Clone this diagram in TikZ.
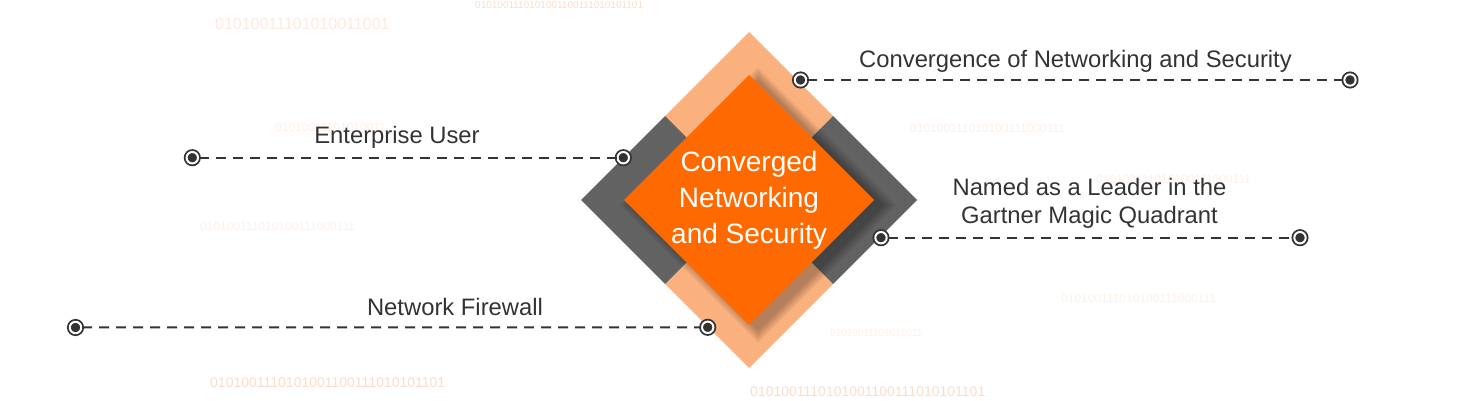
\documentclass[tikz,border=0pt]{standalone}
\usepackage{fontspec}
\setmainfont{Liberation Sans}
\usetikzlibrary{positioning}
\definecolor{peach}{HTML}{FBB17E}
\definecolor{flame}{HTML}{FF6A00}
\definecolor{slate}{HTML}{626262}
\definecolor{ink}{HTML}{333333}
\definecolor{bitsa}{RGB}{251,220,200}
\definecolor{bitsb}{RGB}{253,233,221}
\definecolor{bitsc}{RGB}{254,239,231}

\begin{document}
\begin{tikzpicture}[x=1pt,y=-1pt,
  lbl/.style={text=ink,font=\fontsize{23.8}{27.6}\selectfont,inner sep=0pt,align=center},
  bits/.style={anchor=base west,inner sep=0pt},
  bullseye/.style={circle,fill=ink,draw=ink,double=white,double distance=2pt,line width=1.8pt,inner sep=0pt,minimum size=11.4pt},
  lead/.style={draw=ink,line width=2pt,dash pattern=on 10pt off 7pt}]
\useasboundingbox (0,0) rectangle (1469,401);
% faint binary strings in the back
\node[bits,text=bitsb,font=\fontsize{16}{18}\selectfont] (bin1) at (215,29.3) {01010011101010011001};
\node[bits,text=bitsa,font=\fontsize{10}{12}\selectfont] (bin2) at (475,9) {0101001110101001100111010101101};
\node[bits,text=bitsc,font=\fontsize{12}{14}\selectfont] (bin3) at (275,131.7) {01010011101010011};
\node[bits,text=bitsc,font=\fontsize{12}{14}\selectfont] (bin4) at (200,230) {010100111010100111000111};
\node[bits,text=bitsc,font=\fontsize{12}{14}\selectfont] (bin5) at (910,132) {010100111010100111000111};
\node[bits,text=bitsc,font=\fontsize{12}{14}\selectfont] (bin6) at (1096,183) {010100111010100111000111};
\node[bits,text=bitsc,font=\fontsize{12}{14}\selectfont] (bin7) at (1061,302) {010100111010100111000111};
\node[bits,text=bitsc,font=\fontsize{10}{12}\selectfont] (bin8) at (830,336.7) {01010011101010011};
\node[bits,text=bitsa,font=\fontsize{14}{16}\selectfont] (bin9) at (210,387.3) {0101001110101001100111010101101};
\node[bits,text=bitsa,font=\fontsize{14}{16}\selectfont] (bin10) at (750,396) {0101001110101001100111010101101};
% the diamond
\fill[peach] (749,32) -- (833,116) -- (749,200) -- (665,116) -- cycle;
\fill[peach] (749,368) -- (833,284) -- (749,200) -- (665,284) -- cycle;
\fill[slate] (581,200) -- (665,116) -- (749,200) -- (665,284) -- cycle;
\fill[slate] (917,200) -- (833,116) -- (749,200) -- (833,284) -- cycle;
\foreach \r in {126,128,...,138}
  \fill[black,opacity=0.045,shift={(758,205)}] (0,-\r) -- (\r,0) -- (0,\r) -- (-\r,0) -- cycle;
\fill[flame] (749,75) -- (874,200) -- (749,325) -- (624,200) -- cycle;
\node[text=white,font=\fontsize{28}{36}\selectfont,align=center,inner sep=0pt] (core) at (749,200.3)
  {Converged\\Networking\\and Security};
% leads
\node[bullseye] (eu-a) at (192.3,157.7) {};
\node[bullseye] (eu-b) at (623.3,157.7) {};
\node[bullseye] (nf-a) at (75.5,327.5) {};
\node[bullseye] (nf-b) at (707.7,327.3) {};
\node[bullseye] (cv-a) at (800.5,80) {};
\node[bullseye] (cv-b) at (1350,80) {};
\node[bullseye] (gm-a) at (881,237.7) {};
\node[bullseye] (gm-b) at (1300,237.7) {};
\draw[lead] (eu-a) -- (eu-b);
\draw[lead] (nf-a) -- (nf-b);
\draw[lead] (cv-a) -- (cv-b);
\draw[lead] (gm-a) -- (gm-b);
\node[lbl,anchor=base] (eu) at (397,143) {Enterprise User};
\node[lbl,anchor=base] (nf) at (455,315) {Network Firewall};
\node[lbl,anchor=base] (cv) at (1075.5,67.3) {Convergence of Networking and Security};
\node[lbl] (gm) at (1089.5,203.4) {Named as a Leader in the\\Gartner Magic Quadrant};
\end{tikzpicture}
\end{document}
